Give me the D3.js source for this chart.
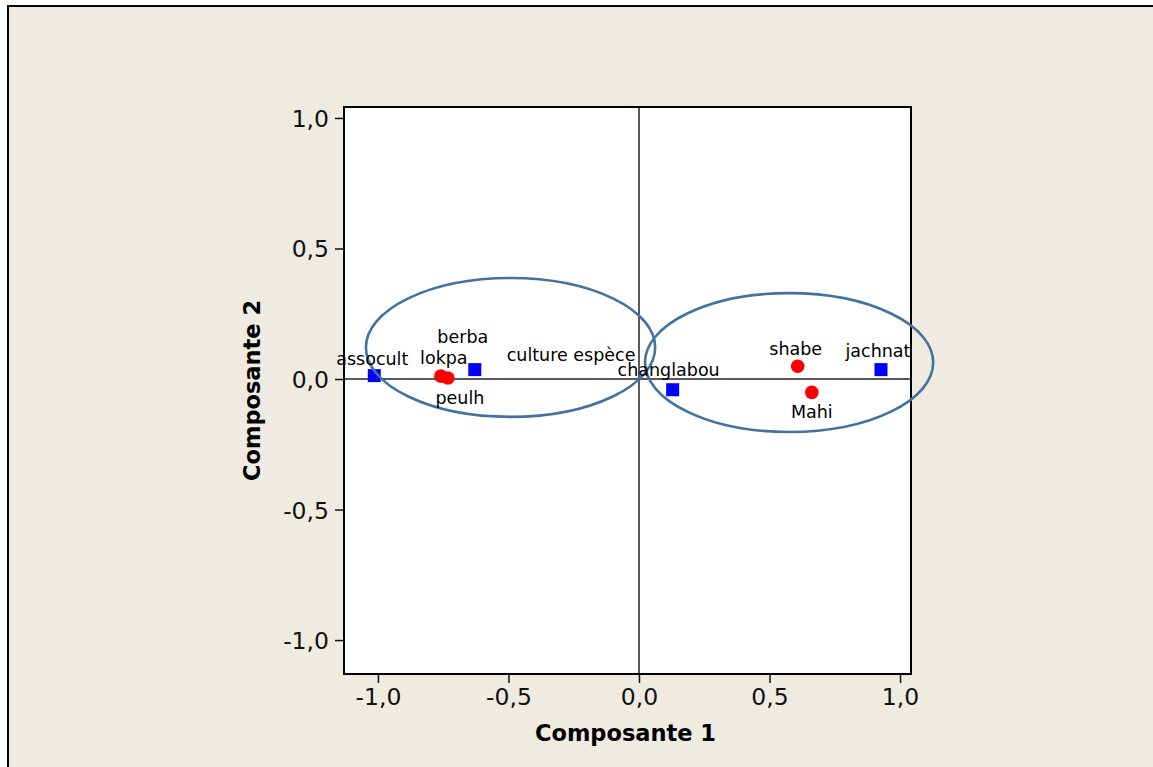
<!DOCTYPE html>
<html>
<head>
<meta charset="utf-8">
<script src="https://cdn.jsdelivr.net/npm/d3@7"></script>
<style>
  html, body { margin: 0; padding: 0; background: #fff; }
  svg { display: block; }
</style>
</head>
<body>
<div id="chart"></div>
<script>
// variables (squares) and groups (circles)
const varNames = ['assocult', 'berba', 'changlabou', 'jachnat'];
const varX = [-1.014, -0.629, 0.129, 0.927];
const varY = [0.013, 0.036, -0.041, 0.036];

const grpNames = ['lokpa', 'peulh', 'shabe', 'Mahi'];
const grpX = [-0.759, -0.732, 0.608, 0.662];
const grpY = [0.011, 0.004, 0.049, -0.051];

// free text label
const noteText = ['culture espèce'];
const noteX = [-0.26];
const noteY = [0.069];

// ellipses: center x, center y, radius x, radius y
const ellCx = [-0.492, 0.575];
const ellCy = [0.121, 0.063];
const ellRx = [0.554, 0.552];
const ellRy = [0.266, 0.266];

const tickValues = [-1, -0.5, 0, 0.5, 1];
const tickLabels = ['-1,0', '-0,5', '0,0', '0,5', '1,0'];
const xTitle = 'Composante 1';
const yTitle = 'Composante 2';

// label offsets in px (layout only)
const labelOffset = {
  assocult: [-2, -11], berba: [-12, -27], changlabou: [-4, -14], jachnat: [-3, -13],
  lokpa: [3, -12], peulh: [12, 26], shabe: [-2, -11], Mahi: [0, 26]
};

const W = 1153, H = 767;
const plot = { left: 344, top: 107, size: 567 };
const dom = [-1.13, 1.042];

const svg = d3.select('#chart').append('svg')
  .attr('width', W).attr('height', H);

// outer panel
svg.append('rect')
  .attr('x', 8).attr('y', 6)
  .attr('width', W + 40).attr('height', H + 40)
  .attr('fill', '#efebe1')
  .attr('stroke', '#000').attr('stroke-width', 2);

const x = d3.scaleLinear().domain(dom).range([plot.left, plot.left + plot.size]);
const y = d3.scaleLinear().domain(dom).range([plot.top + plot.size, plot.top]);

svg.append('rect')
  .attr('x', plot.left).attr('y', plot.top)
  .attr('width', plot.size).attr('height', plot.size)
  .attr('fill', '#fff');

const fmt = d => tickLabels[tickValues.indexOf(d)];

const xAxis = svg.append('g')
  .attr('transform', `translate(0,${plot.top + plot.size})`)
  .call(d3.axisBottom(x).tickValues(tickValues).tickFormat(fmt).tickSize(9).tickPadding(5).tickSizeOuter(0));
const yAxis = svg.append('g')
  .attr('transform', `translate(${plot.left},0)`)
  .call(d3.axisLeft(y).tickValues(tickValues).tickFormat(fmt).tickSize(9).tickPadding(6).tickSizeOuter(0));

[xAxis, yAxis].forEach(g => {
  g.select('.domain').remove();
  g.selectAll('.tick line').attr('stroke', '#111').attr('stroke-width', 1.5);
  g.selectAll('.tick text')
    .attr('font-family', 'DejaVu Sans, sans-serif')
    .attr('font-size', 23.5).attr('fill', '#111');
});
yAxis.selectAll('.tick text').attr('dy', '0.36em');

// reference lines at zero
svg.append('line')
  .attr('x1', x(0)).attr('x2', x(0))
  .attr('y1', plot.top).attr('y2', plot.top + plot.size)
  .attr('stroke', '#222').attr('stroke-width', 1.5);
svg.append('line')
  .attr('x1', plot.left).attr('x2', plot.left + plot.size)
  .attr('y1', y(0)).attr('y2', y(0))
  .attr('stroke', '#222').attr('stroke-width', 1.5);

// plot frame
svg.append('rect')
  .attr('x', plot.left).attr('y', plot.top)
  .attr('width', plot.size).attr('height', plot.size)
  .attr('fill', 'none').attr('stroke', '#000').attr('stroke-width', 2);

const unit = x(1) - x(0);

// markers
svg.selectAll('rect.var').data(varNames).join('rect')
  .attr('class', 'var')
  .attr('x', (d, i) => x(varX[i]) - 6.5)
  .attr('y', (d, i) => y(varY[i]) - 6.5)
  .attr('width', 13).attr('height', 13)
  .attr('fill', '#0000ff');

svg.selectAll('circle.grp').data(grpNames).join('circle')
  .attr('class', 'grp')
  .attr('cx', (d, i) => x(grpX[i]))
  .attr('cy', (d, i) => y(grpY[i]))
  .attr('r', 6.8)
  .attr('fill', '#ff0000');

// ellipses
svg.selectAll('ellipse').data(ellCx).join('ellipse')
  .attr('cx', (d, i) => x(ellCx[i]))
  .attr('cy', (d, i) => y(ellCy[i]))
  .attr('rx', (d, i) => ellRx[i] * unit)
  .attr('ry', (d, i) => ellRy[i] * unit)
  .attr('fill', 'none')
  .attr('stroke', '#44729f').attr('stroke-width', 2.6);

// labels
const labelData = varNames.map((n, i) => ({ n, x: varX[i], y: varY[i] }))
  .concat(grpNames.map((n, i) => ({ n, x: grpX[i], y: grpY[i] })));

svg.selectAll('text.lbl').data(labelData).join('text')
  .attr('class', 'lbl')
  .attr('x', d => x(d.x) + labelOffset[d.n][0])
  .attr('y', d => y(d.y) + labelOffset[d.n][1])
  .attr('text-anchor', 'middle')
  .attr('font-family', 'DejaVu Sans, sans-serif')
  .attr('font-size', 17.5).attr('fill', '#000')
  .text(d => d.n);

svg.selectAll('text.note').data(noteText).join('text')
  .attr('class', 'note')
  .attr('x', (d, i) => x(noteX[i]))
  .attr('y', (d, i) => y(noteY[i]))
  .attr('text-anchor', 'middle')
  .attr('font-family', 'DejaVu Sans, sans-serif')
  .attr('font-size', 17.5).attr('fill', '#000')
  .text(d => d);

// axis titles
svg.append('text')
  .attr('x', plot.left + plot.size / 2 - 2)
  .attr('y', 741)
  .attr('text-anchor', 'middle')
  .attr('font-family', 'DejaVu Sans, sans-serif')
  .attr('font-weight', 'bold').attr('font-size', 22.5).attr('fill', '#000')
  .text(xTitle);

svg.append('text')
  .attr('transform', `translate(260,${plot.top + plot.size / 2}) rotate(-90)`)
  .attr('text-anchor', 'middle')
  .attr('font-family', 'DejaVu Sans, sans-serif')
  .attr('font-weight', 'bold').attr('font-size', 22.5).attr('fill', '#000')
  .text(yTitle);
</script>
</body>
</html>
